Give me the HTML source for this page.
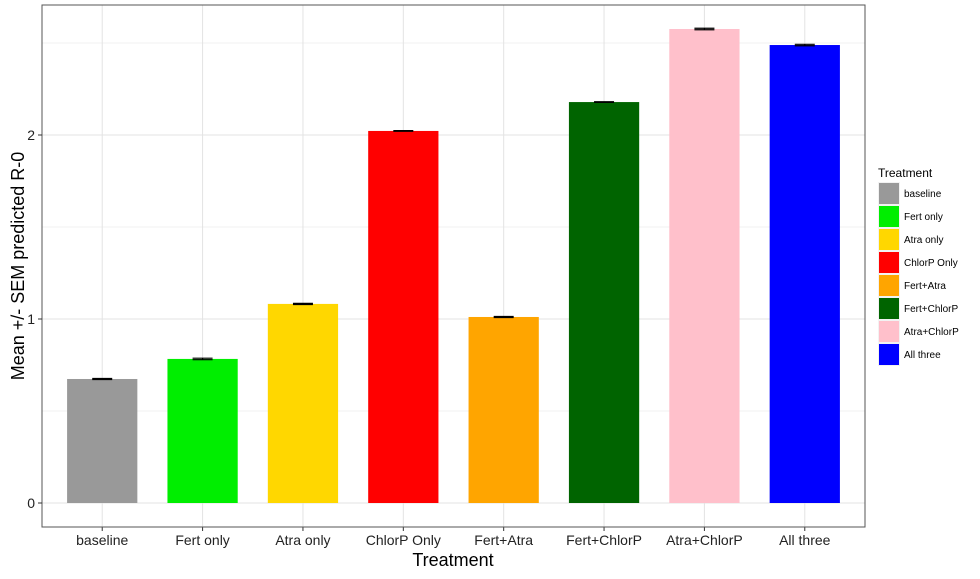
<!DOCTYPE html>
<html><head><meta charset="utf-8"><style>
body{margin:0;background:#fff;font-family:"Liberation Sans",sans-serif}
svg text{font-family:"Liberation Sans",sans-serif}
</style></head><body>
<svg id="c" width="980" height="574"></svg>
<script>
const categories=["baseline","Fert only","Atra only","ChlorP Only","Fert+Atra","Fert+ChlorP","Atra+ChlorP","All three"];
const means=[0.674,0.783,1.082,2.022,1.011,2.179,2.576,2.489];
const sems=[0.003,0.004,0.003,0.002,0.003,0.002,0.004,0.004];
const colors=["#999999","#00EE00","#FFD700","#FF0000","#FFA500","#006400","#FFC0CB","#0000FF"];
const yTicks=[0,1,2];
const NS="http://www.w3.org/2000/svg";
const svg=document.getElementById('c');
const L=42,R=865,T=5,B=527;
const y0=503,ppu=184;
const y=v=>y0-v*ppu;
const step=(R-L)/(categories.length+0.2);
const x=i=>L+(i+0.6)*step;
function mk(tag,attrs,parent){const e=document.createElementNS(NS,tag);for(const k in attrs)e.setAttribute(k,attrs[k]);(parent||svg).appendChild(e);return e;}
let g=mk('g',{});


for(let v=0.5;v<2.71;v+=1){mk('line',{x1:L,x2:R,y1:y(v),y2:y(v),stroke:'#f0f0f0','stroke-width':1},g);}
yTicks.forEach(v=>mk('line',{x1:L,x2:R,y1:y(v),y2:y(v),stroke:'#e3e3e3','stroke-width':1},g));
categories.forEach((c,i)=>mk('line',{x1:x(i),x2:x(i),y1:T,y2:B,stroke:'#e3e3e3','stroke-width':1},g));
categories.forEach((c,i)=>{
 const w=step*0.7;
 const r=mk('rect',{x:x(i)-w/2,y:y(means[i]),width:w,height:y(0)-y(means[i]),fill:colors[i]});
 
 
 const e=mk('path',{d:`M${x(i)-10},${y(means[i]+sems[i])}H${x(i)+10}M${x(i)},${y(means[i]+sems[i])}V${y(means[i]-sems[i])}M${x(i)-10},${y(means[i]-sems[i])}H${x(i)+10}`,stroke:'#000','stroke-width':1.2,fill:'none'});
 
 
 mk('line',{x1:x(i),x2:x(i),y1:B,y2:B+4,stroke:'#333'});
 const t=mk('text',{x:x(i),y:545,'text-anchor':'middle','font-size':14,fill:'#222'});t.textContent=c;
 
 
});
mk('rect',{x:L,y:T,width:R-L,height:B-T,fill:'none',stroke:'#555','stroke-width':1});
yTicks.forEach(v=>{
 mk('line',{x1:L-4,x2:L,y1:y(v),y2:y(v),stroke:'#333'});
 const t=mk('text',{x:L-7,y:y(v)+5,'text-anchor':'end','font-size':14,fill:'#222'});t.textContent=v;
 
 
});
let t=mk('text',{x:453,y:566,'text-anchor':'middle','font-size':18});t.textContent='Treatment';


t=mk('text',{x:0,y:0,'text-anchor':'middle','font-size':18,transform:'translate(24,266) rotate(-90)'});t.textContent='Mean +/- SEM predicted R-0';


const lg=mk('g',{});


t=mk('text',{x:878,y:177,'font-size':12},lg);t.textContent='Treatment';
categories.forEach((c,i)=>{
 const ky=182+i*23;
 mk('rect',{x:878,y:ky,width:22,height:23,fill:'#f2f2f2'},lg);
 const k=mk('rect',{x:879,y:ky+1,width:20,height:21,fill:colors[i]},lg);
 
 
 const lt=mk('text',{x:904,y:ky+15,'font-size':10},lg);lt.textContent=c;
 
 
});
</script>
</body></html>
